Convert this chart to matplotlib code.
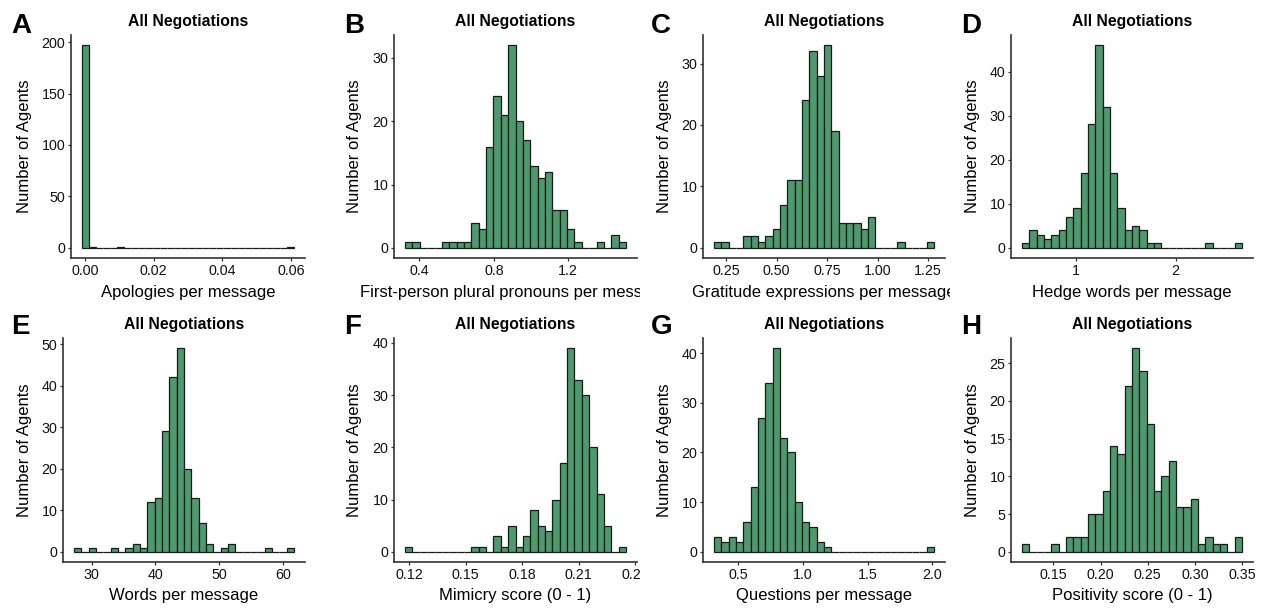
import numpy as np
import matplotlib
matplotlib.use("Agg")
import matplotlib.pyplot as plt
from matplotlib.patches import Rectangle

plt.rcParams['font.family'] = ['Liberation Sans', 'DejaVu Sans']

W, H = 1267, 613
BAR_COLOR = '#4D9A6E'
EDGE_COLOR = '#1a1a1a'
AXIS_COLOR = '#333333'

# counts per bin (30 bins each)
apologies_counts = [197, 1, 0, 0, 0, 1, 0, 0, 0, 0,
                    0, 0, 0, 0, 0, 0, 0, 0, 0, 0,
                    0, 0, 0, 0, 0, 0, 0, 0, 0, 1]
pronouns_counts = [1, 1, 0, 0, 0, 1, 1, 1, 1, 4,
                   3, 16, 24, 21, 32, 20, 17, 13, 11, 12,
                   6, 6, 3, 1, 0, 0, 1, 0, 2, 1]
gratitude_counts = [1, 1, 0, 0, 2, 2, 1, 2, 3, 7,
                    11, 11, 24, 32, 28, 33, 19, 4, 4, 4,
                    3, 5, 0, 0, 0, 1, 0, 0, 0, 1]
hedge_counts = [1, 4, 3, 2, 3, 4, 7, 9, 17, 28,
                46, 32, 17, 9, 4, 5, 4, 1, 1, 0,
                0, 0, 0, 0, 0, 1, 0, 0, 0, 1]
words_counts = [1, 0, 1, 0, 0, 1, 0, 1, 2, 1,
                12, 13, 29, 42, 49, 20, 13, 7, 2, 0,
                1, 2, 0, 0, 0, 0, 1, 0, 0, 1]
mimicry_counts = [1, 0, 0, 0, 0, 0, 0, 0, 0, 1,
                  1, 0, 3, 1, 5, 1, 3, 8, 5, 4,
                  10, 17, 39, 33, 30, 20, 11, 5, 0, 1]
questions_counts = [3, 2, 3, 2, 6, 13, 27, 34, 41, 23,
                    20, 10, 6, 5, 2, 1, 0, 0, 0, 0,
                    0, 0, 0, 0, 0, 0, 0, 0, 0, 1]
positivity_counts = [1, 0, 0, 0, 1, 0, 2, 2, 2, 5,
                     5, 8, 14, 13, 22, 27, 24, 17, 8, 10,
                     12, 6, 6, 7, 1, 2, 1, 1, 0, 2]

# outer bin edges (first left edge, last right edge)
apologies_range = (-0.00103, 0.06103)
pronouns_range = (0.323, 1.510)
gratitude_range = (0.189, 1.280)
hedge_range = (0.455, 2.669)
words_range = (27.23, 61.77)
mimicry_range = (0.1178, 0.2350)
questions_range = (0.311, 2.015)
positivity_range = (0.1166, 0.3500)

letters = ['A', 'B', 'C', 'D', 'E', 'F', 'G', 'H']
x_titles = ['Apologies per message', 'First-person plural pronouns per message',
            'Gratitude expressions per message', 'Hedge words per message',
            'Words per message', 'Mimicry score (0 - 1)',
            'Questions per message', 'Positivity score (0 - 1)']

x_ticks = [[0.00, 0.02, 0.04, 0.06], [0.4, 0.8, 1.2],
           [0.25, 0.50, 0.75, 1.00, 1.25], [1, 2],
           [30, 40, 50, 60], [0.12, 0.15, 0.18, 0.21, 0.24],
           [0.5, 1.0, 1.5, 2.0], [0.15, 0.20, 0.25, 0.30, 0.35]]
x_ticklabels = [['0.00', '0.02', '0.04', '0.06'], ['0.4', '0.8', '1.2'],
                ['0.25', '0.50', '0.75', '1.00', '1.25'], ['1', '2'],
                ['30', '40', '50', '60'], ['0.12', '0.15', '0.18', '0.21', '0.24'],
                ['0.5', '1.0', '1.5', '2.0'], ['0.15', '0.20', '0.25', '0.30', '0.35']]
y_ticks = [[0, 50, 100, 150, 200], [0, 10, 20, 30], [0, 10, 20, 30],
           [0, 10, 20, 30, 40], [0, 10, 20, 30, 40, 50], [0, 10, 20, 30, 40],
           [0, 10, 20, 30, 40], [0, 5, 10, 15, 20, 25]]

counts_list = [apologies_counts, pronouns_counts, gratitude_counts, hedge_counts,
               words_counts, mimicry_counts, questions_counts, positivity_counts]
ranges = [apologies_range, pronouns_range, gratitude_range, hedge_range,
          words_range, mimicry_range, questions_range, positivity_range]

# layout in pixels
panel_x = [(71, 305), (394, 637), (703, 945), (1011, 1253),
           (63, 305), (394, 637), (703, 945), (1011, 1253)]
row_y = [(35, 258), (338, 562)]
cell_left = [0, 333, 640, 950]
ylabel_x = [25, 355, 664, 972]
letter_x = [11, 344, 651, 961]
title_base = [26, 329]
xlabel_base = [297, 600]
letter_base = [33, 334]


def fx(px):
    return px / W


def fy(py):
    return 1 - py / H


fig = plt.figure(figsize=(W / 100, H / 100), dpi=100)
fig.patch.set_facecolor('white')

# white cell backgrounds, like each sub-plot painting over the previous one
for c in range(1, 4):
    fig.patches.append(Rectangle((fx(cell_left[c]), 0), 1 - fx(cell_left[c]), 1,
                                 transform=fig.transFigure, facecolor='white',
                                 edgecolor='none', zorder=10 * c + 1))

for i in range(8):
    row, col = divmod(i, 4)
    x0, x1 = panel_x[i]
    ytop, ybot = row_y[row]
    ax = fig.add_axes([fx(x0), fy(ybot), fx(x1) - fx(x0), fy(ytop) - fy(ybot)])
    ax.set_zorder(10 * col + 2)

    counts = counts_list[i]
    lo, hi = ranges[i]
    edges = np.linspace(lo, hi, len(counts) + 1)
    ax.bar(edges[:-1], counts, width=np.diff(edges), align='edge',
           color=BAR_COLOR, edgecolor=EDGE_COLOR, linewidth=0.9)

    span = hi - lo
    ax.set_xlim(lo - 0.05 * span, hi + 0.05 * span)
    ymax = max(counts)
    ax.set_ylim(-0.05 * ymax, 1.05 * ymax)
    ax.set_xticks(x_ticks[i])
    ax.set_xticklabels(x_ticklabels[i])
    ax.set_yticks(y_ticks[i])

    for s in ['top', 'right']:
        ax.spines[s].set_visible(False)
    for s in ['left', 'bottom']:
        ax.spines[s].set_color(AXIS_COLOR)
        ax.spines[s].set_linewidth(1.2)
    ax.tick_params(axis='both', length=2.5, width=0.9, color=AXIS_COLOR,
                   labelsize=10.3, labelcolor='#111111', pad=1.5)

    cx = (x0 + x1) / 2
    z = 10 * col + 3
    fig.text(fx(cx), fy(title_base[row]), 'All Negotiations', ha='center',
             va='baseline', fontsize=11.3, fontweight='bold', zorder=z)
    fig.text(fx(cx), fy(xlabel_base[row]), x_titles[i], ha='center',
             va='baseline', fontsize=12, zorder=z)
    fig.text(fx(ylabel_x[col]), fy((ytop + ybot) / 2), 'Number of Agents',
             ha='center', va='center', rotation=90, fontsize=12, zorder=z)
    fig.text(fx(letter_x[col]), fy(letter_base[row]), letters[i], ha='left',
             va='baseline', fontsize=20, fontweight='heavy', zorder=z)

fig.savefig('out.png', dpi=100)
